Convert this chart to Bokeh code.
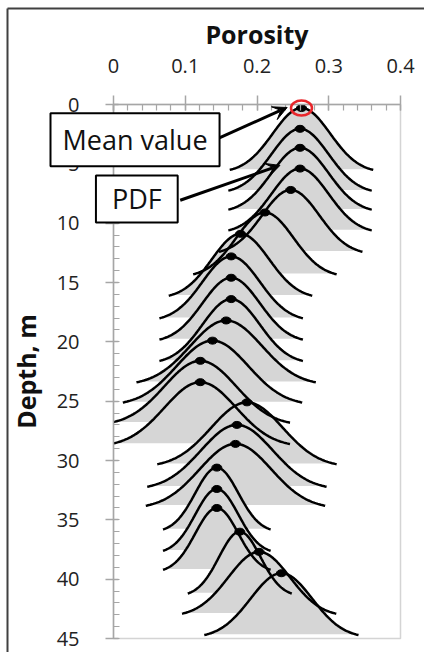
import numpy as np
from bokeh.plotting import figure
from bokeh.models import Range1d, FixedTicker, Arrow, VeeHead, Label, Column
from bokeh.embed import file_html
from bokeh.resources import INLINE

# ---- data ----
means = [0.262, 0.260, 0.260, 0.260, 0.247, 0.211, 0.177, 0.164, 0.164, 0.164,
         0.157, 0.138, 0.121, 0.121, 0.186, 0.172, 0.170,
         0.144, 0.144, 0.144, 0.176, 0.203, 0.234]
depths = [0.3, 2.05, 3.65, 5.4, 7.2, 9.1, 10.9, 12.8, 14.6, 16.4,
          18.2, 19.9, 21.6, 23.4, 25.1, 27.0, 28.6,
          30.6, 32.4, 34.0, 36.0, 37.7, 39.5]
sds = [0.040, 0.040, 0.040, 0.040, 0.040, 0.040, 0.040, 0.040, 0.040, 0.040,
       0.050, 0.050, 0.050, 0.050, 0.050, 0.050, 0.050,
       0.030, 0.030, 0.030, 0.029, 0.043, 0.043]
pdf_height = 5.45      # drawn height of each PDF, in metres of depth
tail_z = 2.5           # PDFs drawn to +/- 2.5 standard deviations

x_ticks = [0, 0.1, 0.2, 0.3, 0.4]
x_tick_labels = ["0", "0.1", "0.2", "0.3", "0.4"]
x_minor = [round(0.02 * i, 2) for i in range(21)]
y_ticks = [0, 5, 10, 15, 20, 25, 30, 35, 40, 45]
y_tick_labels = ["0", "5", "10", "15", "20", "25", "30", "35", "40", "45"]
y_minor = list(range(0, 46))
X_MIN, X_MAX = 0.0, 0.4
Y_TOP, Y_BOT = 0.0, 45.0

x_title = "Porosity"
y_title = "Depth, m"
ann_mean = "Mean value"
ann_pdf = "PDF"

# ---- layout (pixels) ----
W, H = 424, 652
B_L, B_T, B_R, B_B = 113, 104, 24, 14        # borders around the plot frame

# ---- PDF curves ----
xs, ys = [], []
for m, d, s in zip(means, depths, sds):
    z = np.linspace(-tail_z, tail_z, 121)
    xs.append(list(m + z * s))
    ys.append(list(d + pdf_height * (1 - np.exp(-z ** 2 / 2))))

FONT = "Open Sans"
TXT = "#222222"
AX = "#a6a6a6"

p = figure(width=W, height=H,
           x_range=Range1d(X_MIN, X_MAX), y_range=Range1d(Y_BOT, Y_TOP),
           x_axis_location="above",
           output_backend="svg", toolbar_location=None,
           min_border_left=B_L, min_border_top=B_T,
           min_border_right=B_R, min_border_bottom=B_B)
p.outline_line_color = "#d4d4d4"
p.outline_line_width = 1.5
p.xgrid.visible = False
p.ygrid.visible = False
p.background_fill_color = "white"
p.border_fill_color = "white"

p.patches(xs, ys, fill_color="#d6d6d6", line_color="white", line_width=1.5)
p.multi_line(xs, ys, line_color="black", line_width=2.5)
p.ellipse(x=means, y=depths, width=10, height=7,
          width_units="screen", height_units="screen",
          fill_color="black", line_color="black")

# axes
xa = p.xaxis[0]
xa.ticker = FixedTicker(ticks=x_ticks, minor_ticks=x_minor)
xa.major_label_overrides = dict(zip(x_ticks, x_tick_labels))
xa.axis_label = x_title
ya = p.yaxis[0]
ya.ticker = FixedTicker(ticks=y_ticks, minor_ticks=y_minor)
ya.major_label_overrides = dict(zip(y_ticks, y_tick_labels))
ya.axis_label = y_title
for ax in (xa, ya):
    ax.axis_line_color = AX
    ax.axis_line_width = 1.5
    ax.major_tick_line_color = AX
    ax.minor_tick_line_color = AX
    ax.major_tick_line_width = 1.5
    ax.minor_tick_line_width = 1.2
    ax.minor_tick_out = 0
    ax.minor_tick_in = 6
    ax.major_label_text_font = FONT
    ax.major_label_text_font_size = "20px"
    ax.major_label_text_color = TXT
    ax.axis_label_text_font = FONT
    ax.axis_label_text_font_size = "25px"
    ax.axis_label_text_font_style = "bold"
    ax.axis_label_text_color = "#111111"
xa.major_tick_out = 9
xa.major_tick_in = 6
xa.major_label_standoff = 23
xa.axis_label_standoff = 5
ya.major_tick_out = 8
ya.major_tick_in = 5
ya.major_label_standoff = 26
ya.axis_label_standoff = 11

# ---- overlay figure: same data scale, frame = whole canvas (nothing clipped) ----
ppx = (W - B_L - B_R) / (X_MAX - X_MIN)
ppy = (H - B_T - B_B) / (Y_BOT - Y_TOP)
qx0, qx1 = X_MIN - B_L / ppx, X_MAX + B_R / ppx
qy_top, qy_bot = Y_TOP - B_T / ppy, Y_BOT + B_B / ppy
q = figure(width=W, height=H, x_range=Range1d(qx0, qx1), y_range=Range1d(qy_bot, qy_top),
           x_axis_type=None, y_axis_type=None, output_backend="svg",
           toolbar_location=None, min_border=0)
q.outline_line_color = None
q.background_fill_color = None
q.border_fill_color = None
q.grid.visible = False

# outer chart border (left and top edges)
bx = qx0 + 7 / ppx
by = qy_top + 8 / ppy
q.segment(x0=[bx, bx], y0=[by, by], x1=[bx, qx1], y1=[qy_bot, by],
          line_color="#404040", line_width=2)

# red ring around the first mean value
q.ellipse(x=[means[0]], y=[depths[0]], width=21, height=15,
          width_units="screen", height_units="screen",
          fill_color=None, line_color="#e8262b", line_width=2.5)

q.add_layout(Arrow(end=VeeHead(size=14, fill_color="black", line_color="black"),
                   x_start=0.146, y_start=2.86, x_end=0.242, y_end=0.25,
                   line_width=3, line_color="black"))
q.add_layout(Arrow(end=VeeHead(size=14, fill_color="black", line_color="black"),
                   x_start=0.093, y_start=8.07, x_end=0.232, y_end=5.13,
                   line_width=3, line_color="black"))
q.add_layout(Label(x=0.030, y=2.96, text=ann_mean, text_align="center",
                   text_baseline="middle", text_font=FONT,
                   text_font_size="27px", text_color="#111111",
                   background_fill_color="white", border_line_color="black",
                   border_line_width=2, padding=(12, 8)))
q.add_layout(Label(x=0.0325, y=7.96, text=ann_pdf, text_align="center",
                   text_baseline="middle", text_font=FONT,
                   text_font_size="27px", text_color="#111111",
                   background_fill_color="white", border_line_color="black",
                   border_line_width=2, padding=(16, 5)))

overlay = Column(children=[q], width=W, height=H,
                 styles={"position": "absolute", "left": "0px", "top": "0px", "z-index": "2"})
root = Column(children=[p, overlay], width=W, height=H,
              styles={"position": "relative"})
open("out.html", "w").write(file_html(root, INLINE))
